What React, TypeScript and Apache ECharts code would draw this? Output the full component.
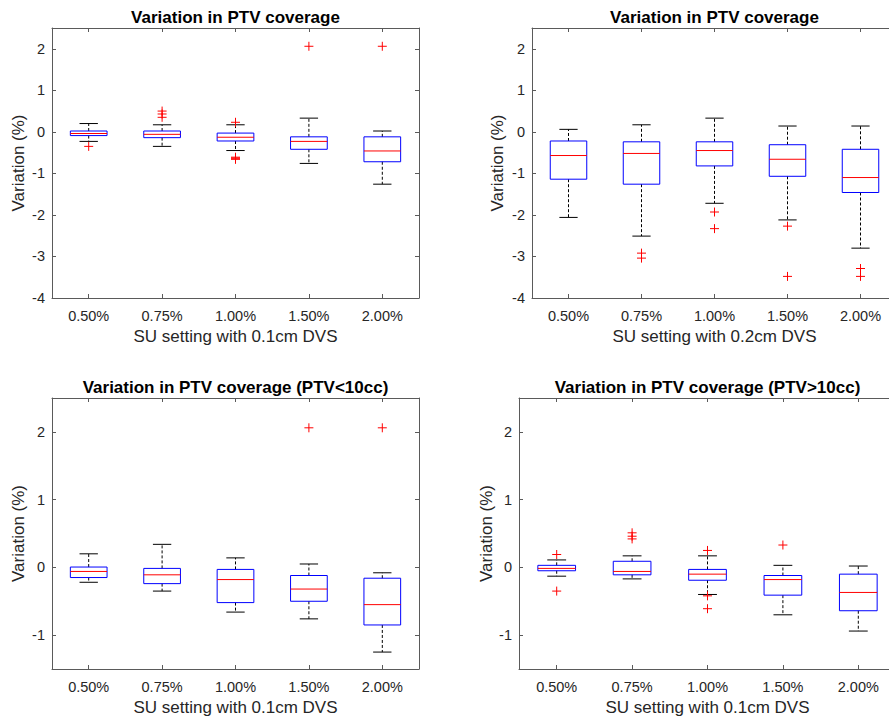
import React, { useEffect, useRef } from "react";
import * as echarts from "echarts";

const categories = ["0.50%", "0.75%", "1.00%", "1.50%", "2.00%"];

// Panel A: SU setting with 0.1cm DVS (all)
const lowA = [-0.23, -0.35, -0.45, -0.76, -1.26];
const q1A = [-0.09, -0.14, -0.22, -0.42, -0.72];
const medA = [-0.04, -0.06, -0.13, -0.23, -0.46];
const q3A = [0.02, 0.02, -0.03, -0.12, -0.12];
const highA = [0.2, 0.17, 0.17, 0.33, 0.02];
const outA = [[0, -0.35], [1, 0.5], [1, 0.43], [1, 0.35], [2, 0.23], [2, -0.61], [2, -0.63], [2, -0.65], [2, -0.66], [3, 2.06], [4, 2.06]];

// Panel B: SU setting with 0.2cm DVS
const lowB = [-2.06, -2.51, -1.72, -2.12, -2.8];
const q1B = [-1.14, -1.26, -0.82, -1.07, -1.46];
const medB = [-0.57, -0.52, -0.45, -0.66, -1.1];
const q3B = [-0.22, -0.24, -0.24, -0.31, -0.42];
const highB = [0.06, 0.17, 0.33, 0.14, 0.14];
const outB = [[1, -2.92], [1, -3.04], [2, -1.93], [2, -2.33], [3, -2.27], [3, -3.48], [4, -3.29], [4, -3.48]];

// Panel C: PTV<10cc
const lowC = [-0.22, -0.35, -0.66, -0.76, -1.25];
const q1C = [-0.15, -0.24, -0.52, -0.5, -0.85];
const medC = [-0.06, -0.11, -0.18, -0.32, -0.55];
const q3C = [0.005, -0.015, -0.03, -0.12, -0.16];
const highC = [0.2, 0.34, 0.14, 0.05, -0.08];
const outC = [[3, 2.06], [4, 2.06]];

// Panel D: PTV>10cc
const lowD = [-0.13, -0.17, -0.4, -0.7, -0.94];
const q1D = [-0.05, -0.11, -0.19, -0.41, -0.64];
const medD = [-0.015, -0.06, -0.1, -0.18, -0.37];
const q3D = [0.03, 0.09, -0.03, -0.12, -0.1];
const highD = [0.11, 0.17, 0.17, 0.03, 0.02];
const outD = [[0, 0.19], [0, -0.35], [1, 0.51], [1, 0.46], [1, 0.42], [2, 0.25], [2, -0.42], [2, -0.61], [3, 0.33]];

const titles = [
  "Variation in PTV coverage",
  "Variation in PTV coverage",
  "Variation in PTV coverage (PTV<10cc)",
  "Variation in PTV coverage (PTV>10cc)",
];
const xNames = [
  "SU setting with 0.1cm DVS",
  "SU setting with 0.2cm DVS",
  "SU setting with 0.1cm DVS",
  "SU setting with 0.1cm DVS",
];
const yName = "Variation (%)";
const yTicksTop = [-4, -3, -2, -1, 0, 1, 2];
const yTicksBottom = [-1, 0, 1, 2];

const FONT = "'Liberation Sans', Arial, Helvetica, sans-serif";
const AXIS_COLOR = "#5a5a5a";
const TEXT_COLOR = "#262626";

export default function App() {
  const ref = useRef<HTMLDivElement>(null);

  useEffect(() => {
    if (!ref.current) return;
    const chart = echarts.init(ref.current, null, { renderer: "svg" });

    const panels = [
      { low: lowA, q1: q1A, med: medA, q3: q3A, high: highA, out: outA, min: -4, max: 2.5, ticks: yTicksTop },
      { low: lowB, q1: q1B, med: medB, q3: q3B, high: highB, out: outB, min: -4, max: 2.5, ticks: yTicksTop },
      { low: lowC, q1: q1C, med: medC, q3: q3C, high: highC, out: outC, min: -1.5, max: 2.5, ticks: yTicksBottom },
      { low: lowD, q1: q1D, med: medD, q3: q3D, high: highD, out: outD, min: -1.5, max: 2.5, ticks: yTicksBottom },
    ];

    const grids = [
      { left: 52, top: 28, width: 367, height: 270 },
      { left: 532, top: 28, width: 365, height: 270 },
      { left: 52, top: 398, width: 367, height: 271 },
      { left: 519, top: 398, width: 377, height: 271 },
    ];
    const yNameGaps = [25, 26, 25, 24];

    const xAxis: any[] = [];
    const yAxis: any[] = [];
    const series: any[] = [];
    const graphic: any[] = [];

    panels.forEach((p, i) => {
      xAxis.push({
        type: "category",
        gridIndex: i,
        data: categories,
        position: "bottom",
        axisLine: { show: true, onZero: false, lineStyle: { color: AXIS_COLOR, width: 1 } },
        axisTick: { show: true, inside: true, alignWithLabel: true, length: 4, lineStyle: { color: AXIS_COLOR } },
        axisLabel: { color: TEXT_COLOR, fontSize: 14.5, margin: 10, fontFamily: FONT },
        splitLine: { show: false },
        name: xNames[i],
        nameLocation: "middle",
        nameGap: 30,
        nameTextStyle: { fontSize: 17, color: TEXT_COLOR, fontFamily: FONT },
      });
      xAxis.push({
        type: "category",
        gridIndex: i,
        data: categories,
        position: "top",
        axisLine: { show: true, onZero: false, lineStyle: { color: AXIS_COLOR, width: 1 } },
        axisTick: { show: true, inside: true, alignWithLabel: true, length: 4, lineStyle: { color: AXIS_COLOR } },
        axisLabel: { show: false },
        splitLine: { show: false },
      });
      yAxis.push({
        type: "value",
        gridIndex: i,
        min: p.min,
        max: p.max,
        position: "left",
        axisLine: { show: true, onZero: false, lineStyle: { color: AXIS_COLOR, width: 1 } },
        axisTick: { show: true, inside: true, length: 4, customValues: p.ticks, lineStyle: { color: AXIS_COLOR } },
        axisLabel: { customValues: p.ticks, color: TEXT_COLOR, fontSize: 14.5, margin: 7, fontFamily: FONT },
        splitLine: { show: false },
        name: yName,
        nameLocation: "middle",
        nameGap: yNameGaps[i],
        nameRotate: 90,
        nameTextStyle: { fontSize: 17, color: TEXT_COLOR, fontFamily: FONT },
      });
      yAxis.push({
        type: "value",
        gridIndex: i,
        min: p.min,
        max: p.max,
        position: "right",
        axisLine: { show: true, onZero: false, lineStyle: { color: AXIS_COLOR, width: 1 } },
        axisTick: { show: true, inside: true, length: 4, customValues: p.ticks, lineStyle: { color: AXIS_COLOR } },
        axisLabel: { show: false },
        splitLine: { show: false },
      });

      const boxData = categories.map((_, k) => [k, p.low[k], p.q1[k], p.med[k], p.q3[k], p.high[k]]);
      series.push({
        type: "custom",
        xAxisIndex: 2 * i,
        yAxisIndex: 2 * i,
        data: boxData,
        encode: { x: 0, y: [1, 2, 3, 4, 5] },
        renderItem: (params: any, api: any) => {
          const x = api.value(0);
          const pLow = api.coord([x, api.value(1)]);
          const pQ1 = api.coord([x, api.value(2)]);
          const pMed = api.coord([x, api.value(3)]);
          const pQ3 = api.coord([x, api.value(4)]);
          const pHigh = api.coord([x, api.value(5)]);
          const cx = pMed[0];
          const bw = api.size([1, 0])[0] * 0.5;
          const cw = bw / 2;
          const dash = { stroke: "#000", lineWidth: 1, lineDash: [3, 2] };
          const solid = { stroke: "#000", lineWidth: 1 };
          return {
            type: "group",
            children: [
              { type: "line", shape: { x1: cx, y1: pQ3[1], x2: cx, y2: pHigh[1] }, style: dash },
              { type: "line", shape: { x1: cx, y1: pQ1[1], x2: cx, y2: pLow[1] }, style: dash },
              { type: "line", shape: { x1: cx - cw / 2, y1: pHigh[1], x2: cx + cw / 2, y2: pHigh[1] }, style: solid },
              { type: "line", shape: { x1: cx - cw / 2, y1: pLow[1], x2: cx + cw / 2, y2: pLow[1] }, style: solid },
              {
                type: "rect",
                shape: { x: cx - bw / 2, y: pQ3[1], width: bw, height: pQ1[1] - pQ3[1] },
                style: { fill: "none", stroke: "#0000ff", lineWidth: 1 },
              },
              {
                type: "line",
                shape: { x1: cx - bw / 2, y1: pMed[1], x2: cx + bw / 2, y2: pMed[1] },
                style: { stroke: "#ff0000", lineWidth: 1 },
              },
            ],
          };
        },
      });
      series.push({
        type: "custom",
        xAxisIndex: 2 * i,
        yAxisIndex: 2 * i,
        data: p.out,
        encode: { x: 0, y: 1 },
        renderItem: (params: any, api: any) => {
          const pt = api.coord([api.value(0), api.value(1)]);
          const h = 4.5;
          const st = { stroke: "#ff0000", lineWidth: 1 };
          return {
            type: "group",
            children: [
              { type: "line", shape: { x1: pt[0] - h, y1: pt[1], x2: pt[0] + h, y2: pt[1] }, style: st },
              { type: "line", shape: { x1: pt[0], y1: pt[1] - h, x2: pt[0], y2: pt[1] + h }, style: st },
            ],
          };
        },
      });

      const g = grids[i];
      graphic.push({
        type: "text",
        x: g.left + g.width / 2,
        y: i < 2 ? 17.5 : 387.5,
        style: {
          text: titles[i],
          fontSize: 17,
          fontWeight: "bold",
          fontFamily: FONT,
          fill: "#000",
          align: "center",
          verticalAlign: "middle",
        },
      });
    });

    chart.setOption({
      animation: false,
      backgroundColor: "#ffffff",
      grid: grids,
      xAxis,
      yAxis,
      series,
      graphic,
    });

    return () => chart.dispose();
  }, []);

  return (
    <div
      ref={ref}
      style={{ position: "fixed", left: 0, top: 0, width: 900, height: 718, background: "#fff" }}
    />
  );
}
